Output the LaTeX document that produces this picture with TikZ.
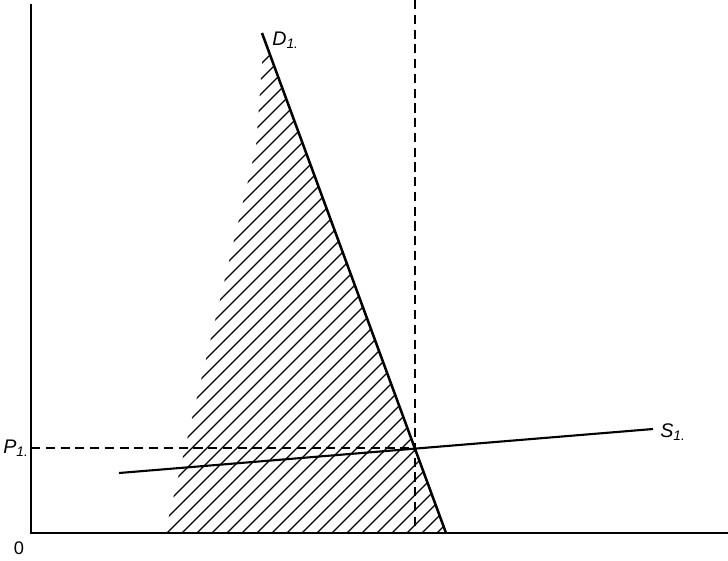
\documentclass[tikz,border=0pt]{standalone}
\usepackage{fontspec}
\setmainfont{Liberation Sans}
\tikzset{
  axis/.style={line width=1.5pt},
  curve/.style={line width=1.8pt},
  guide/.style={line width=0.9pt,dash pattern=on 6.5pt off 4pt},
  hatch/.style={line width=0.8pt},
  lbl/.style={font=\itshape\fontsize{14}{16}\selectfont,inner sep=0pt}
}

\begin{document}
\begin{tikzpicture}[x=0.025cm,y=-0.025cm]
\useasboundingbox (0,0) rectangle (728,560);

% axes and curves
\coordinate (O) at (31,533);
\coordinate (ytop) at (31,4);
\coordinate (xend) at (728,533);
\coordinate (Dtop) at (262,33);
\coordinate (Dbot) at (446,533);
\coordinate (Sleft) at (119,473);
\coordinate (Sright) at (653,429);
\coordinate (E) at (415,448);
\coordinate (Etop) at (415,0);
\coordinate (Eaxis) at (415,533);
\coordinate (Paxis) at (31,448);

% shaded area
\begin{scope}
\clip (263,50) -- (256,147) -- (165,533) -- (Dbot) -- (268,48) -- cycle;
\foreach \c in {310,325,...,985}
  \draw[hatch] (\c-600,600) -- (\c,0);
\end{scope}

\draw[guide] (Etop) -- (Eaxis);
\draw[guide] (Paxis) -- (E);

\draw[axis] (ytop) -- (O) -- (xend);
\draw[curve] (Dtop) -- (Dbot);
\draw[curve,line width=1.5pt] (Sleft) -- (Sright);

\node[lbl,right] (dlab) at (272,40) {D\textsubscript{1.}};
\node[lbl,right] (slab) at (660,432) {S\textsubscript{1.}};
\node[lbl] (plab) at (16,448) {P\textsubscript{1.}};
\node[lbl,font=\fontsize{13}{15}\selectfont] (olab) at (19,548) {0};
\end{tikzpicture}
\end{document}
